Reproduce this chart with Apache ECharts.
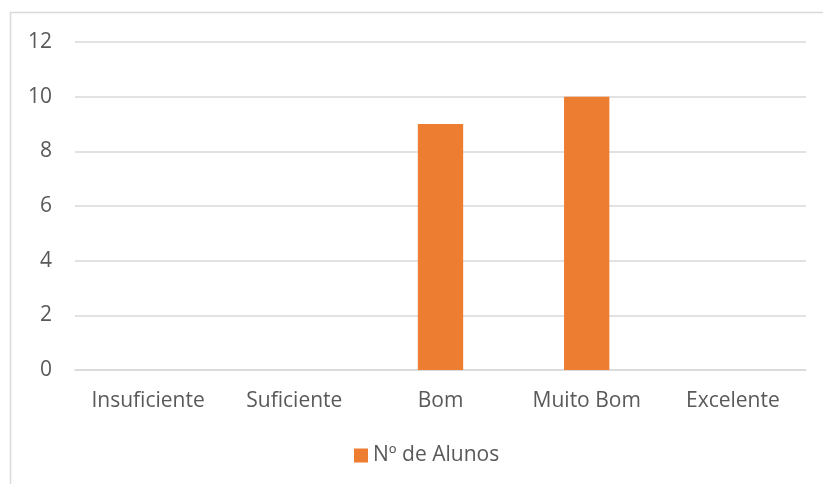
<!DOCTYPE html>
<html>
<head>
<meta charset="utf-8">
<script src="https://cdn.jsdelivr.net/npm/echarts@6/dist/echarts.min.js"></script>
<style>
  html, body { margin: 0; padding: 0; background: #fff; }
  #chart { width: 823px; height: 484px; }
</style>
</head>
<body>
<div id="chart"></div>
<script>
// Grades and number of students in each
const categories = ['Insuficiente', 'Suficiente', 'Bom', 'Muito Bom', 'Excelente'];
const alunos = [0, 0, 9, 10, 0];
const seriesName = 'Nº de Alunos';

const textColor = '#595959';
const fontFamily = '"Open Sans", "Noto Sans", sans-serif';
const fontSize = 21;

const chart = echarts.init(document.getElementById('chart'));
chart.setOption({
  animation: false,
  backgroundColor: '#ffffff',
  graphic: [{
    type: 'rect',
    shape: { x: 10.5, y: 12.5, width: 900, height: 600 },
    style: { fill: 'none', stroke: '#d9d9d9', lineWidth: 1.5 },
    silent: true
  }],
  grid: { left: 75, right: 17, top: 42, bottom: 114 },
  xAxis: {
    type: 'category',
    data: categories,
    axisLine: { show: true, lineStyle: { color: '#d9d9d9', width: 1.5 } },
    axisTick: { show: false },
    axisLabel: { color: textColor, fontSize, fontFamily, margin: 21, interval: 0 }
  },
  yAxis: {
    type: 'value',
    min: 0, max: 12, interval: 2,
    axisLine: { show: false },
    axisTick: { show: false },
    splitLine: { lineStyle: { color: '#d9d9d9', width: 1.5 } },
    axisLabel: { color: textColor, fontSize, fontFamily, margin: 23 }
  },
  legend: {
    top: 445,
    left: 354,
    padding: 0,
    itemWidth: 14, itemHeight: 14,
    itemGap: 7,
    icon: 'rect',
    textStyle: { color: textColor, fontSize, fontFamily },
    data: [seriesName]
  },
  series: [{
    name: seriesName,
    type: 'bar',
    data: alunos,
    barWidth: '31%',
    itemStyle: { color: '#ED7D31' }
  }]
});
</script>
</body>
</html>
